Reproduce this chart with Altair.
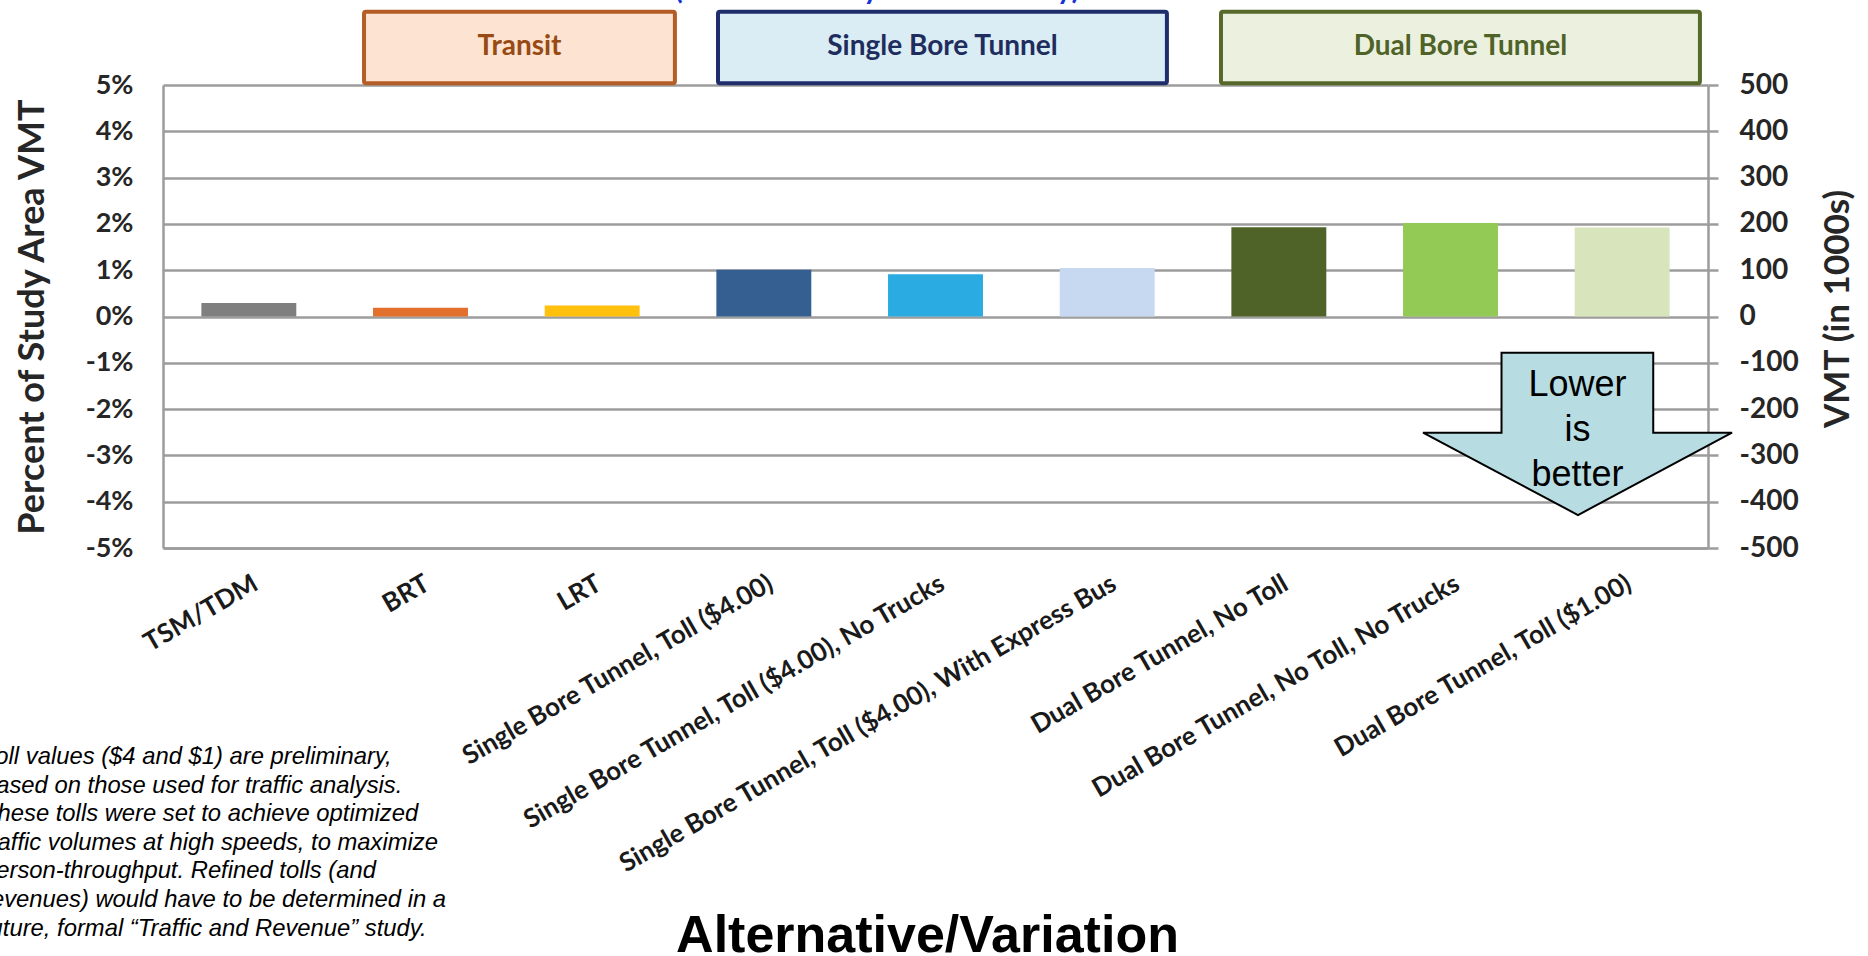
import json
import altair as alt
import pandas as pd

# ---------------- data ----------------
categories = [
    "TSM/TDM",
    "BRT",
    "LRT",
    "Single Bore Tunnel, Toll ($4.00)",
    "Single Bore Tunnel, Toll ($4.00), No Trucks",
    "Single Bore Tunnel, Toll ($4.00), With Express Bus",
    "Dual Bore Tunnel, No Toll",
    "Dual Bore Tunnel, No Toll, No Trucks",
    "Dual Bore Tunnel, Toll ($1.00)",
]
pct_change = [0.29, 0.19, 0.24, 1.01, 0.91, 1.05, 1.93, 2.02, 1.92]
bar_colors = ["#7f7f7f", "#e2702c", "#ffc10e", "#355f91", "#2aabe2",
              "#c6d9f0", "#4f6228", "#93c955", "#d8e4bc"]

group_names = ["Transit", "Single Bore Tunnel", "Dual Bore Tunnel"]
group_fill = ["#fce3d2", "#daedf4", "#ebf1de"]
group_stroke = ["#b55d27", "#1f2d6a", "#56692b"]
group_text_color = ["#984a14", "#1f2d5e", "#4f6228"]

pct_ticks = [-5, -4, -3, -2, -1, 0, 1, 2, 3, 4, 5]
vmt_ticks = [-500, -400, -300, -200, -100, 0, 100, 200, 300, 400, 500]

footnote_lines = [
    "Toll values ($4 and $1) are preliminary,",
    "based on those used for traffic analysis.",
    "These tolls were set to achieve optimized",
    "traffic volumes at high speeds, to maximize",
    "person-throughput.  Refined tolls (and",
    "revenues) would have to be determined in a",
    "future, formal \u201cTraffic and Revenue\u201d study.",
]
arrow_lines = ["Lower", "is", "better"]
top_title = "(Modeled Study Area Weekday)"

# ---------------- layout ----------------
W, H = 1545, 463
PAD = {"left": 163, "top": 85, "right": 160, "bottom": 408}
BAR_W = 0.553                      # bar width in category-step units
GROUP_SPANS = [(0.671, 2.482), (2.733, 5.348), (5.663, 8.453)]  # in category index units
BOX_Y = (5.04, 6.58)               # in percent-axis units (above the plot)
BOX_TEXT_Y = 5.81
ARROW_X, ARROW_Y = 7.74, -2.536
ARROW_TEXT_Y = -1.48               # first text line
ARROW_SIZE = 309 ** 2
ARROW_PATH = "M -0.492 -0.526 L 0.49 -0.526 L 0.49 -0.008 L 1 -0.008 L 0.003 0.525 L -1 -0.008 L -0.492 -0.008 Z"

GRID = "#9c9c9c"
LABEL = "#262626"

x_scale = alt.Scale(domain=[-0.5, len(categories) - 0.5], nice=False, zero=False)


def yscale():
    return alt.Scale(domain=[-5, 5], nice=False, zero=False)


bars_df = pd.DataFrame({
    "idx": list(range(len(categories))),
    "cat": categories,
    "pct": pct_change,
    "col": bar_colors,
})
bars_df["x0"] = bars_df["idx"] - BAR_W / 2
bars_df["x1"] = bars_df["idx"] + BAR_W / 2

label_expr = json.dumps(categories) + "[datum.value]"

bars = alt.Chart(bars_df).mark_bar().encode(
    x=alt.X("x0:Q", scale=x_scale, axis=alt.Axis(
        values=list(range(len(categories))),
        labelExpr=label_expr,
        labelAngle=330, labelAlign="right", labelBaseline="top",
        labelFont="Lato", labelFontWeight="bold", labelFontSize=26,
        labelColor="#1a1a1a", labelPadding=22, labelLimit=900,
        labelOverlap=False, labelFlush=False,
        ticks=False, grid=False,
        domain=True, domainColor=GRID, domainWidth=2.5,
        title="Alternative/Variation", titleFont="Liberation Sans",
        titleFontSize=52, titleFontWeight="bold", titleColor="#000000",
        titleX=764, titleY=403, titleAlign="center", titleBaseline="alphabetic",
        titleAnchor="start",
    )),
    x2="x1:Q",
    y=alt.Y("pct:Q", scale=yscale(), axis=alt.Axis(
        orient="left",
        values=pct_ticks, labelExpr="datum.value + '%'",
        labelFont="Lato", labelFontWeight="bold", labelFontSize=27,
        labelColor=LABEL, labelPadding=30,
        ticks=False, domain=True, domainColor=GRID, domainWidth=2.5,
        grid=True, gridColor=GRID, gridWidth=2.5,
        title="Percent of Study Area VMT", titleFont="Lato",
        titleFontSize=36, titleFontWeight="bold", titleColor=LABEL,
        titleAngle=270, titleX=-131, titleY=H / 2,
        titleAlign="center", titleBaseline="middle",
    )),
    y2=alt.datum(0),
    color=alt.Color("col:N", scale=None),
)

groups_df = pd.DataFrame({
    "group": group_names,
    "fill": group_fill,
    "stroke": group_stroke,
    "tcol": group_text_color,
    "start": [s for s, e in GROUP_SPANS],
    "end": [e for s, e in GROUP_SPANS],
})
groups_df["mid"] = (groups_df["start"] + groups_df["end"]) / 2
groups_df["ylo"] = BOX_Y[0]
groups_df["yhi"] = BOX_Y[1]
groups_df["ytxt"] = BOX_TEXT_Y

boxes = alt.Chart(groups_df).mark_rect(strokeWidth=4, cornerRadius=2).encode(
    x=alt.X("start:Q", scale=x_scale),
    x2="end:Q",
    y=alt.Y("yhi:Q", scale=yscale(), axis=None),
    y2="ylo:Q",
    fill=alt.Fill("fill:N", scale=None),
    stroke=alt.Stroke("stroke:N", scale=None),
)
box_text = alt.Chart(groups_df).mark_text(
    font="Lato", fontWeight="bold", fontSize=28, baseline="middle", align="center"
).encode(
    x=alt.X("mid:Q", scale=x_scale),
    y=alt.Y("ytxt:Q", scale=yscale(), axis=None),
    text="group:N",
    color=alt.Color("tcol:N", scale=None),
)

arrow_df = pd.DataFrame({"x": [ARROW_X], "y": [ARROW_Y], "ty": [ARROW_TEXT_Y],
                         "label": ["\n".join(arrow_lines)]})
arrow = alt.Chart(arrow_df).mark_point(
    shape=ARROW_PATH, size=ARROW_SIZE, filled=True, fill="#b7dde2",
    stroke="#000000", strokeWidth=2, opacity=1,
).encode(
    x=alt.X("x:Q", scale=x_scale),
    y=alt.Y("y:Q", scale=yscale(), axis=None),
)
arrow_text = alt.Chart(arrow_df).mark_text(
    font="Liberation Sans", fontSize=36, lineBreak="\n", lineHeight=45,
    align="center", baseline="middle", color="#000000",
).encode(
    x=alt.X("x:Q", scale=x_scale),
    y=alt.Y("ty:Q", scale=yscale(), axis=None),
    text="label:N",
)

note_df = pd.DataFrame({"t": ["\n".join(footnote_lines)]})
footnote = alt.Chart(note_df).mark_text(
    font="Liberation Sans", fontStyle="italic", fontSize=23.8, lineBreak="\n",
    lineHeight=28.6, align="left", baseline="middle", color="#000000",
).encode(
    x=alt.value(-17 - PAD["left"]),
    y=alt.value(757 - PAD["top"]),
    text="t:N",
)

title_df = pd.DataFrame({"t": [top_title]})
title_text = alt.Chart(title_df).mark_text(
    font="Lato", fontWeight="bold", fontSize=29, align="center",
    baseline="alphabetic", color="#1433d6",
).encode(
    x=alt.value(877 - PAD["left"]),
    y=alt.value(-1 - PAD["top"]),
    text="t:N",
)

vmt_df = pd.DataFrame({"vmt": vmt_ticks})
right_axis = alt.Chart(vmt_df).mark_point(opacity=0).encode(
    y=alt.Y("vmt:Q", scale=alt.Scale(domain=[-500, 500], nice=False, zero=False),
            axis=alt.Axis(
                orient="right", values=vmt_ticks, labelExpr="'' + datum.value",
                labelFont="Lato", labelFontWeight="bold", labelFontSize=28,
                labelColor=LABEL, labelPadding=21,
                ticks=True, tickSize=10, tickColor=GRID, tickWidth=2.5,
                domain=True, domainColor=GRID, domainWidth=2.5, grid=False,
                title="VMT (in 1000s)", titleFont="Lato", titleFontSize=35,
                titleFontWeight="bold", titleColor=LABEL,
                titleAngle=270, titleX=129, titleY=H / 2 - 8,
                titleAlign="center", titleBaseline="middle",
            )),
)

chart = alt.layer(
    bars, boxes, box_text, arrow, arrow_text, footnote, title_text, right_axis
).resolve_scale(y="independent").properties(
    width=W, height=H,
    autosize=alt.AutoSizeParams(type="none"),
    padding=PAD,
    background="#ffffff",
).configure_view(stroke=None)

chart.save("out.html", embed_options={"renderer": "svg", "actions": False})
